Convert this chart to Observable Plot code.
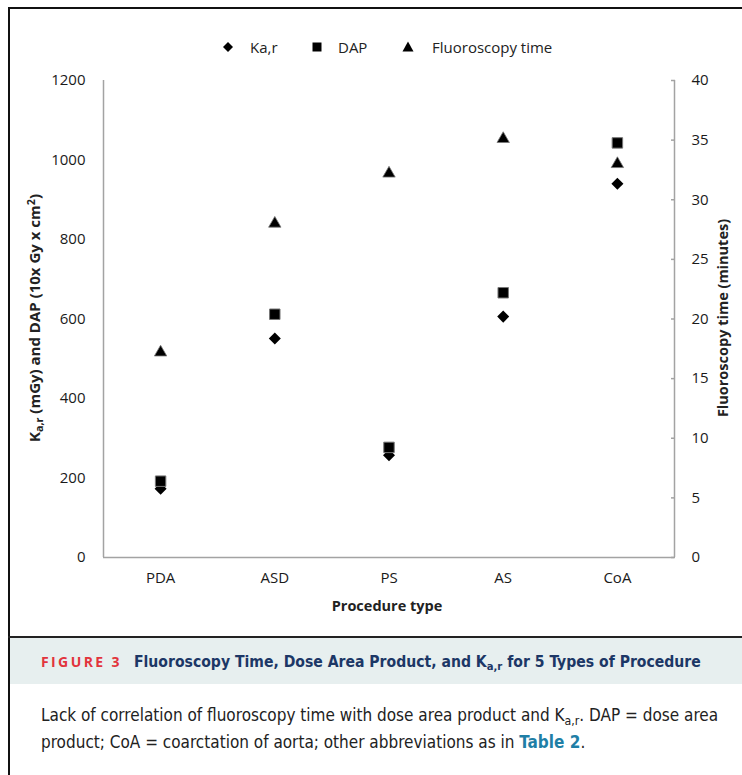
<!DOCTYPE html>
<html><head><meta charset="utf-8">
<script src="https://cdn.jsdelivr.net/npm/d3@7"></script>
<script src="https://cdn.jsdelivr.net/npm/@observablehq/plot@0.6"></script>
<style>
body{margin:0;background:#fff;}
#page{position:relative;width:742px;height:775px;overflow:hidden;font-family:"Open Sans",sans-serif;color:#222;}
.bl{position:absolute;left:8px;top:7px;width:2px;height:768px;background:#111;}
.bt{position:absolute;left:8px;top:7px;width:734px;height:2px;background:#111;}
#chart{position:absolute;left:0;top:60px;}
.leg{position:absolute;top:38px;font-size:15px;line-height:18px;white-space:nowrap;}
.rot{position:absolute;transform:translate(-50%,-50%) rotate(-90deg);white-space:nowrap;font-weight:bold;font-size:14.5px;color:#222;}
.xlab{position:absolute;transform:translate(-50%,-50%);white-space:nowrap;font-weight:bold;font-size:14.5px;color:#222;}
sub,sup{font-size:0.72em;line-height:0;}
sub{vertical-align:-0.3em;}
sup{vertical-align:0.5em;}
.capline{position:absolute;left:8px;top:636px;width:734px;height:2px;background:#222;}
.capband{position:absolute;left:10px;top:638px;width:732px;height:46px;background:#e7efef;}
.captitle{position:absolute;left:41px;top:652px;white-space:nowrap;font-family:"DejaVu Sans Condensed","Liberation Sans Narrow",sans-serif;font-weight:bold;font-size:15.6px;color:#1c3766;}
.fig{font-family:"Open Sans",sans-serif;color:#e2343c;font-size:14px;letter-spacing:2.4px;margin-right:12px;}
.capbody{position:absolute;left:41px;top:702px;font-family:"DejaVu Sans Condensed","Liberation Sans Narrow",sans-serif;font-size:17px;line-height:27px;color:#222;white-space:nowrap;}
.capbody b{color:#1f7fa6;}
</style></head><body>
<div id="page">
  <div class="bl"></div>
  <div class="bt"></div>
  <div id="legend"></div>
  <div id="chart"></div>
  <div class="rot" style="left:34px;top:318px;font-size:15px;">K<sub>a,r</sub> (mGy) and DAP (10x Gy x cm<sup>2</sup>)</div>
  <div class="rot" id="rlab" style="left:722px;top:318px;"></div>
  <div class="xlab" id="xlab" style="left:387px;top:605px;"></div>
  <div class="capline"></div>
  <div class="capband"></div>
  <div class="captitle"><span class="fig">FIGURE 3</span>Fluoroscopy Time, Dose Area Product, and K<sub>a,r</sub> for 5 Types of Procedure</div>
  <div class="capbody">Lack of correlation of fluoroscopy time with dose area product and K<sub>a,r</sub>. DAP = dose area<br>product; CoA = coarctation of aorta; other abbreviations as in <b>Table 2</b>.</div>
</div>
<script>
const categories = ["PDA", "ASD", "PS", "AS", "CoA"];
const karValues = [173, 551, 257, 606, 940];
const dapValues = [192, 612, 277, 666, 1043];
const fluoroTimes = [17.2, 28.0, 32.2, 35.1, 33.0];
const leftTicks = [0, 200, 400, 600, 800, 1000, 1200];
const rightTicks = [0, 5, 10, 15, 20, 25, 30, 35, 40];
const seriesNames = ["Ka,r", "DAP", "Fluoroscopy time"];
const xTitle = "Procedure type";
const rightTitle = "Fluoroscopy time (minutes)";

const ratio = 1200 / 40; // left units per minute

const diamond = {draw(ctx, size) {
  const r = Math.sqrt(size / 2);
  ctx.moveTo(0, -r); ctx.lineTo(r, 0); ctx.lineTo(0, r); ctx.lineTo(-r, 0); ctx.closePath();
}};

const rows = categories.map((c, i) => ({i, c, kar: karValues[i], dap: dapValues[i], fl: fluoroTimes[i]}));
const axisGray = "#a3a3a3";

const chart = Plot.plot({
  width: 742,
  height: 570,
  marginLeft: 103,
  marginRight: 68,
  marginTop: 20,
  marginBottom: 73,
  style: {fontFamily: "Open Sans", fontSize: "15px", color: "#1a1a1a", background: "transparent", overflow: "visible"},
  x: {type: "linear", domain: [-0.5, categories.length - 0.5]},
  y: {domain: [0, 1200]},
  marks: [
    Plot.ruleY([0], {stroke: axisGray, strokeWidth: 1.5}),
    Plot.ruleX([-0.5, categories.length - 0.5], {stroke: axisGray, strokeWidth: 1.5}),
    Plot.axisX(d3.range(categories.length), {tickFormat: i => categories[i], tickSize: 0, tickPadding: 15, fontSize: 15, label: null}),
    Plot.axisY(leftTicks, {anchor: "left", tickFormat: d => String(d), tickSize: 0, tickPadding: 18, fontSize: 15, label: null}),
    Plot.axisY(rightTicks.map(t => t * ratio), {anchor: "right", tickFormat: d => String(d / ratio), tickSize: -4, tickPadding: 21, fontSize: 15, stroke: axisGray, strokeWidth: 1.5, label: null}),
    Plot.dot(rows, {x: "i", y: "kar", symbol: diamond, r: 4.8, fill: "#000", stroke: "none"}),
    Plot.dot(rows, {x: "i", y: "dap", symbol: "square", r: 5.9, fill: "#000", stroke: "#777", strokeWidth: 1}),
    Plot.dot(rows, {x: "i", y: d => d.fl * ratio, symbol: "triangle", r: 4.6, fill: "#000", stroke: "#777", strokeWidth: 0.8})
  ]
});
document.getElementById("chart").appendChild(chart);
document.getElementById("rlab").textContent = rightTitle;
document.getElementById("xlab").textContent = xTitle;

// legend
const legend = document.getElementById("legend");
const legItems = [
  {name: seriesNames[0], sx: 228, tx: 250, shape: "M0,-5L5,0L0,5L-5,0Z"},
  {name: seriesNames[1], sx: 317, tx: 338, shape: "M-4.5,-4.5H4.5V4.5H-4.5Z"},
  {name: seriesNames[2], sx: 408, tx: 432, shape: "M0,-5.5L5.5,4.5H-5.5Z"}
];
legItems.forEach(it => {
  const s = document.createElementNS("http://www.w3.org/2000/svg", "svg");
  s.setAttribute("width", 14); s.setAttribute("height", 14);
  s.setAttribute("viewBox", "-7 -7 14 14");
  s.style.cssText = `position:absolute;left:${it.sx - 7}px;top:40px;`;
  const p = document.createElementNS("http://www.w3.org/2000/svg", "path");
  p.setAttribute("d", it.shape); p.setAttribute("fill", "#000");
  s.appendChild(p);
  legend.appendChild(s);
  const t = document.createElement("div");
  t.className = "leg";
  t.style.left = it.tx + "px";
  t.textContent = it.name;
  legend.appendChild(t);
});
</script>
</body></html>
